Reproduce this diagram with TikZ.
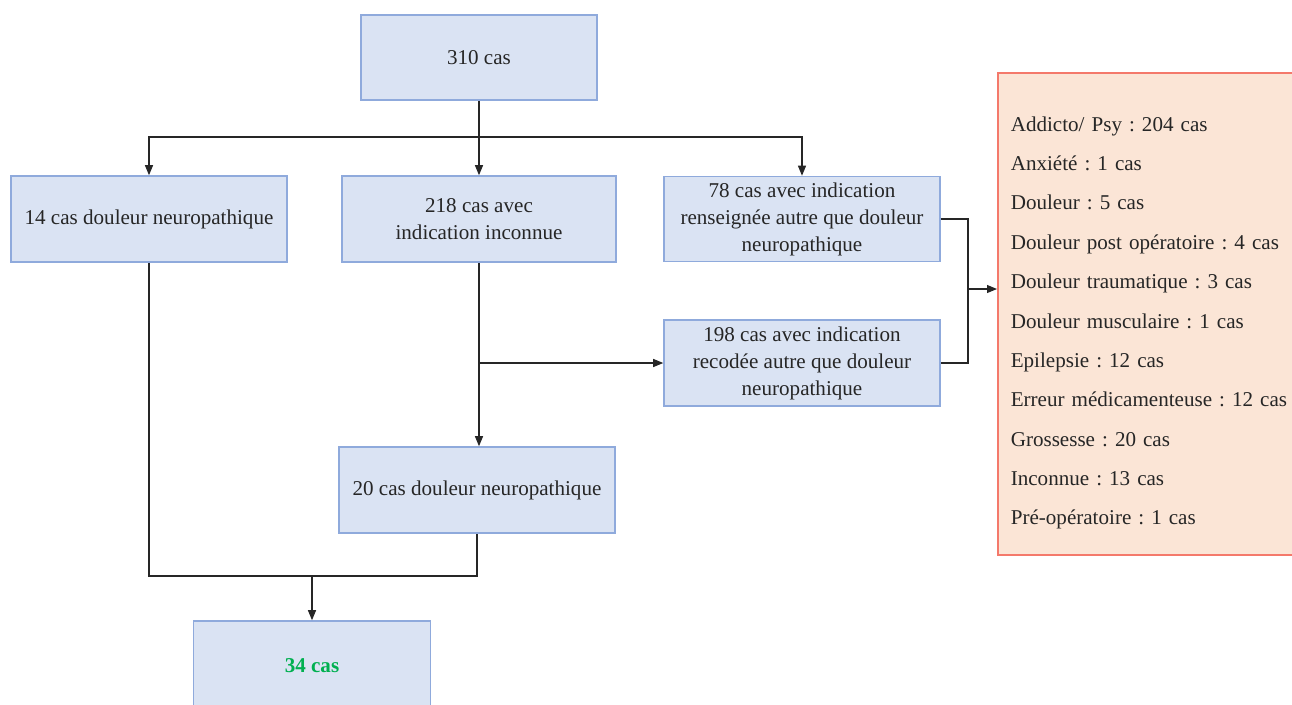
\documentclass[tikz,border=0pt]{standalone}
\usepackage{fontspec}
\setmainfont{Liberation Serif}
\usepackage{tikz}
\usetikzlibrary{arrows.meta,calc,positioning}
\definecolor{boxfill}{HTML}{DAE3F3}
\definecolor{boxline}{HTML}{8FAADC}
\definecolor{listfill}{HTML}{FBE5D6}
\definecolor{listline}{HTML}{F4796B}
\definecolor{okgreen}{HTML}{00B050}
\frenchspacing
\tikzset{
  box/.style     = {draw=boxline, line width=0.9pt, fill=boxfill, text=black!85,
                    minimum width=5.52cm, minimum height=1.72cm, align=center,
                    font=\rmfamily\fontsize{12}{15.4}\selectfont},
  listbox/.style = {draw=listline, line width=0.9pt, fill=listfill, text=black!85,
                    inner xsep=0.26cm, text width=6cm, minimum height=9.64cm, align=left,
                    text height=0.65cm, font=\rmfamily\fontsize{12}{22.4}\selectfont},
  wire/.style    = {line width=0.6pt, black!85},
  arr/.style     = {wire, -{Triangle[length=2mm,width=1.6mm]}},
}
\begin{document}
\begin{tikzpicture}[x=0.02cm,y=-0.02cm]
  \useasboundingbox (0,0) rectangle (1292,704);
  \node[box, minimum width=4.72cm, minimum height=1.7cm] (top) at (479,57.5) {310 cas};
  \node[box] (neuroA) at (149,219) {14 cas douleur neuropathique};
  \node[box, minimum width=5.48cm] (unknown) at (479,219) {218 cas avec\\indication inconnue};
  \node[box, minimum height=1.7cm] (other) at (802,219)
    {78 cas avec indication\\renseignée autre que douleur\\neuropathique};
  \node[box] (recoded) at (802,363)
    {198 cas avec indication\\recodée autre que douleur\\neuropathique};
  \node[box] (neuroB) at (477,490) {20 cas douleur neuropathique};
  \node[box, minimum width=4.74cm, minimum height=1.8cm, text=okgreen,
        font=\rmfamily\fontsize{12}{15.4}\selectfont\bfseries] (total) at (312,666) {34 cas};
  \node[listbox, anchor=west] (list) at (997,314)
    {Addicto/ Psy : 204 cas\\
     Anxiété : 1 cas\\
     Douleur : 5 cas\\
     Douleur post opératoire : 4 cas\\
     Douleur traumatique : 3 cas\\
     Douleur musculaire : 1 cas\\
     Epilepsie : 12 cas\\
     Erreur médicamenteuse : 12 cas\\
     Grossesse : 20 cas\\
     Inconnue : 13 cas\\
     Pré-opératoire : 1 cas};

  % top split
  \coordinate (fork) at (479,137);
  \draw[wire] (top.south) -- (fork);
  \draw[arr] (fork) -| (neuroA.north);
  \draw[arr] (fork) -- (unknown.north);
  \draw[arr] (fork) -| (other.north);

  % unknown indication
  \draw[arr] (unknown.south) -- (unknown.south |- neuroB.north);
  \coordinate (tap) at (unknown.south |- recoded.west);
  \draw[arr] (tap) -- (recoded.west);

  % other indications
  \coordinate (join) at (968,289);
  \draw[wire] (other.east) -| (join);
  \draw[wire] (recoded.east) -| (join);
  \draw[arr] (join) -- (list.west |- join);

  % neuropathic total
  \coordinate (merge) at (312,576);
  \draw[wire] (neuroA.south) |- (neuroB.south |- merge) -- (neuroB.south);
  \draw[arr] (merge) -- (total.north);
\end{tikzpicture}
\end{document}
